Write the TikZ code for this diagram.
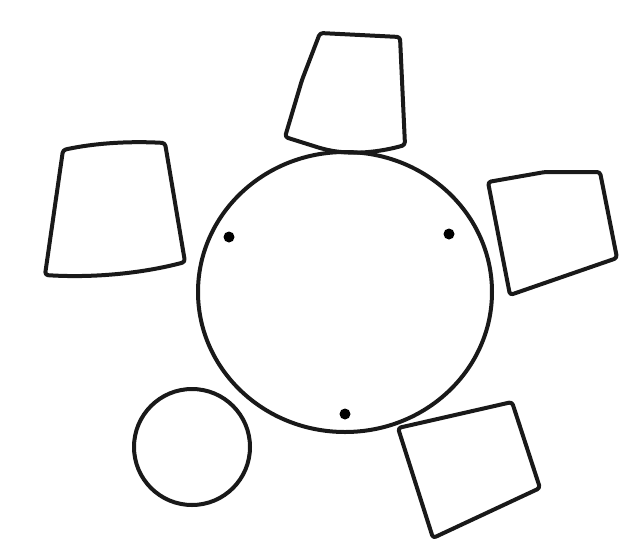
\documentclass[tikz,border=0pt]{standalone}
\begin{document}
\begin{tikzpicture}[x=1pt,y=-1pt,
  sketch/.style={draw=black!90,line width=4pt,line join=round,line cap=round,rounded corners=3pt},
  seatdot/.style={circle,fill=black,inner sep=0pt,minimum size=11pt}]
\useasboundingbox (0,0) rectangle (633,539);
% big table
\draw[sketch] (345,292) ellipse [x radius=147, y radius=140];
\node[seatdot] (d1) at (229,237) {};
\node[seatdot] (d2) at (449,234) {};
\node[seatdot] (d3) at (345,414) {};
% top trapezoid
\draw[sketch] (320,33) -- (400,37) -- (405,145) .. controls (380,152) and (350,156) .. (320,148) -- (285,137) -- (302,80) -- cycle;
% left trapezoid
\draw[sketch] (63,150) .. controls (95,143) and (130,141) .. (165,143) -- (185,262) .. controls (140,274) and (90,278) .. (45,275) -- cycle;
% right quad
\draw[sketch] (488,182) -- (545,172) -- (600,172) -- (617,258) -- (510,295) -- cycle;
% bottom-right quad
\draw[sketch] (398,428) -- (512,402) -- (540,488) -- (433,538) -- cycle;
% small circle
\draw[sketch] (192,447) circle [radius=58];
\end{tikzpicture}
\end{document}
